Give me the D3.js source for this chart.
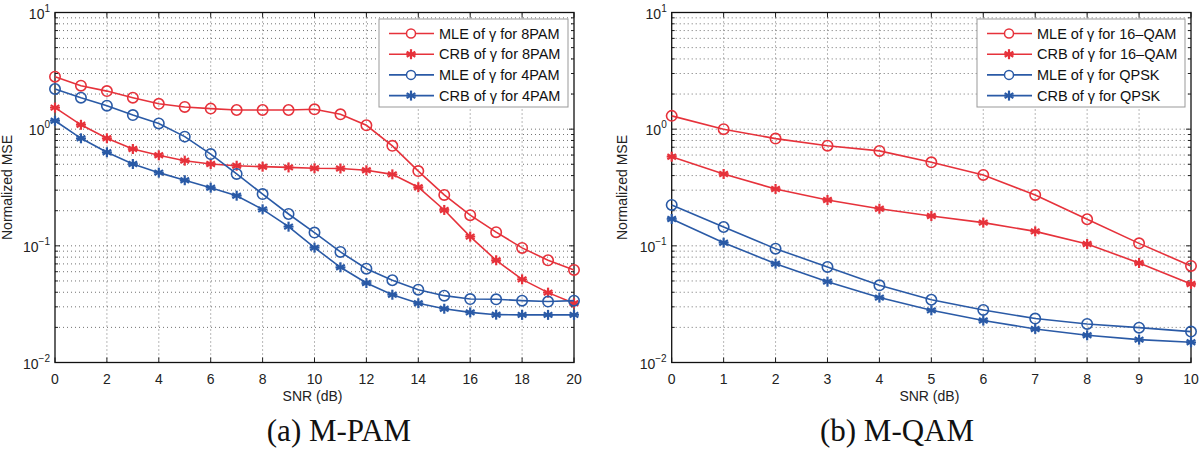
<!DOCTYPE html>
<html><head><meta charset="utf-8">
<script src="https://cdn.jsdelivr.net/npm/d3@7"></script>
<style>body{margin:0;background:#fff}svg{display:block}</style>
</head><body>
<svg id="c" width="1200" height="450"></svg>
<script>
// ---- data ----
const snrPAM = d3.range(0, 21);
const mle8PAM = [2.82,2.36,2.12,1.86,1.65,1.55,1.50,1.46,1.46,1.46,1.48,1.34,1.08,0.72,0.437,0.273,0.183,0.131,0.096,0.0752,0.0621];
const crb8PAM = [1.53,1.09,0.835,0.676,0.597,0.537,0.503,0.486,0.477,0.47,0.462,0.46,0.444,0.41,0.318,0.203,0.12,0.0752,0.0516,0.0397,0.0322];
const mle4PAM = [2.21,1.86,1.59,1.32,1.12,0.863,0.612,0.413,0.278,0.1875,0.13,0.0886,0.0637,0.0507,0.0421,0.0374,0.035,0.0348,0.0339,0.0333,0.0339];
const crb4PAM = [1.18,0.835,0.634,0.503,0.424,0.365,0.315,0.269,0.2055,0.146,0.0964,0.0655,0.048,0.0381,0.0322,0.0289,0.0269,0.0257,0.0256,0.0256,0.0256];

const snrQAM = d3.range(0, 11);
const mle16QAM = [1.30,1.0,0.83,0.722,0.651,0.52,0.405,0.273,0.169,0.105,0.0672];
const crb16QAM = [0.581,0.413,0.307,0.247,0.208,0.18,0.158,0.133,0.1037,0.0713,0.0471];
const mleQPSK = [0.224,0.145,0.0946,0.0659,0.0459,0.0345,0.0282,0.0238,0.0214,0.0199,0.0184];
const crbQPSK = [0.17,0.1064,0.0703,0.0493,0.036,0.028,0.0229,0.0194,0.0171,0.0157,0.0149];

const pamTicks = [0,2,4,6,8,10,12,14,16,18,20];
const qamTicks = [0,1,2,3,4,5,6,7,8,9,10];
const yDecades = [-2,-1,0,1];
const legendPAM = ["MLE of γ for 8PAM","CRB of γ for 8PAM","MLE of γ for 4PAM","CRB of γ for 4PAM"];
const legendQAM = ["MLE of γ for 16–QAM","CRB of γ for 16–QAM","MLE of γ for QPSK","CRB of γ for QPSK"];
const captions = ["(a) M-PAM","(b) M-QAM"];

const RED = "#e6323b", BLUE = "#2a5aa6";
const svg = d3.select("#c");
const font = "Liberation Sans, Arial, Helvetica, sans-serif";

function panel(cfg){
  const {x0,x1,xDom,xTicks,series,xs,legend,caption,capX,ylabX,legX} = cfg;
  const y0 = 362.5, y1 = 12.5;
  const x = d3.scaleLinear().domain(xDom).range([x0,x1]);
  const y = d3.scaleLog().domain([0.01,10]).range([y0,y1]);
  const g = svg.append("g");

  // grid
  const minor = [];
  for (const d of [-2,-1,0]) for (let k=2;k<=9;k++) minor.push(k*Math.pow(10,d));
  const majors = yDecades.map(d=>Math.pow(10,d));
  g.selectAll(".gy").data(minor.concat(majors.slice(1,3))).join("line")
    .attr("x1",x0).attr("x2",x1).attr("y1",d=>y(d)).attr("y2",d=>y(d))
    .attr("stroke","#444").attr("stroke-width",1).attr("stroke-dasharray","1,3").attr("opacity",0.75);
  g.selectAll(".gx").data(xTicks.slice(1,-1)).join("line")
    .attr("x1",d=>x(d)).attr("x2",d=>x(d)).attr("y1",y0).attr("y2",y1)
    .attr("stroke","#444").attr("stroke-width",1).attr("stroke-dasharray","1,3").attr("opacity",0.75);

  // ticks inside, all sides
  const tk = g.append("g").attr("stroke","#222").attr("stroke-width",1);
  xTicks.forEach(t=>{
    tk.append("line").attr("x1",x(t)).attr("x2",x(t)).attr("y1",y0).attr("y2",y0-5);
    tk.append("line").attr("x1",x(t)).attr("x2",x(t)).attr("y1",y1).attr("y2",y1+5);
  });
  majors.concat(minor).forEach(v=>{
    const L = majors.includes(v)?5:3;
    tk.append("line").attr("x1",x0).attr("x2",x0+L).attr("y1",y(v)).attr("y2",y(v));
    tk.append("line").attr("x1",x1).attr("x2",x1-L).attr("y1",y(v)).attr("y2",y(v));
  });
  g.append("rect").attr("x",x0).attr("y",y1).attr("width",x1-x0).attr("height",y0-y1)
    .attr("fill","none").attr("stroke","#111").attr("stroke-width",1.3);

  // x tick labels
  g.selectAll(".xl").data(xTicks).join("text")
    .attr("x",d=>x(d)).attr("y",y0+21).attr("text-anchor","middle")
    .attr("font-family",font).attr("font-size",14).attr("fill","#222").text(d=>d);
  // y tick labels
  yDecades.forEach(d=>{
    const t = g.append("text").attr("x",x0-5).attr("y",y(Math.pow(10,d))+6).attr("text-anchor","end")
      .attr("font-family",font).attr("font-size",14).attr("fill","#222");
    t.append("tspan").text("10");
    t.append("tspan").attr("dy",-7).attr("font-size",10).text(d<0?"−"+(-d):d);
  });
  g.append("text").attr("x",(x0+x1)/2-2).attr("y",y0+38).attr("text-anchor","middle")
    .attr("font-family",font).attr("font-size",14).attr("fill","#222").text("SNR (dB)");
  g.append("text").attr("transform",`translate(${ylabX},${(y0+y1)/2}) rotate(-90)`)
    .attr("text-anchor","middle").attr("font-family",font).attr("font-size",14).attr("fill","#222").text("Normalized MSE");
  g.append("text").attr("x",capX).attr("y",441).attr("text-anchor","middle")
    .attr("font-family","Liberation Serif, Times New Roman, serif").attr("font-size",31).attr("fill","#111").text(caption);

  const line = d3.line().x((d,i)=>x(xs[i])).y(d=>y(d));
  const star = (sel,cx,cy,col)=>{
    const r=5;
    [0,60,120].forEach(a=>{
      const rad=a*Math.PI/180;
      sel.append("line").attr("x1",cx-r*Math.sin(rad)).attr("y1",cy-r*Math.cos(rad))
        .attr("x2",cx+r*Math.sin(rad)).attr("y2",cy+r*Math.cos(rad))
        .attr("stroke",col).attr("stroke-width",2.2);
    });
    sel.append("line").attr("x1",cx-r).attr("x2",cx+r).attr("y1",cy).attr("y2",cy).attr("stroke",col).attr("stroke-width",1.8);
  };
  series.forEach(s=>{
    g.append("path").datum(s.v).attr("d",line).attr("fill","none").attr("stroke",s.c).attr("stroke-width",1.6);
    const mg = g.append("g");
    s.v.forEach((v,i)=>{
      if (s.m==="o") mg.append("circle").attr("cx",x(xs[i])).attr("cy",y(v)).attr("r",5.2)
        .attr("fill","none").attr("stroke",s.c).attr("stroke-width",1.6);
      else star(mg,x(xs[i]),y(v),s.c);
    });
  });

  // legend
  const lg = g.append("g");
  const bw = cfg.legW;
  lg.append("rect").attr("x",legX).attr("y",19).attr("width",bw).attr("height",88)
    .attr("fill","#fff").attr("stroke","#999").attr("stroke-width",1);
  legend.forEach((t,i)=>{
    const ly = 33.5 + i*20.7;
    const s = series[i];
    lg.append("line").attr("x1",legX+10).attr("x2",legX+55).attr("y1",ly).attr("y2",ly).attr("stroke",s.c).attr("stroke-width",1.6);
    if (s.m==="o") lg.append("circle").attr("cx",legX+32).attr("cy",ly).attr("r",4.5).attr("fill","#fff").attr("stroke",s.c).attr("stroke-width",1.5);
    else star(lg,legX+32,ly,s.c);
    lg.append("text").attr("x",legX+60).attr("y",ly+5).attr("font-family",font).attr("font-size",14.5).attr("fill","#111").text(t);
  });
}

panel({x0:55,x1:574,xDom:[0,20],xTicks:pamTicks,xs:snrPAM,
  series:[{v:mle8PAM,c:RED,m:"o"},{v:crb8PAM,c:RED,m:"*"},{v:mle4PAM,c:BLUE,m:"o"},{v:crb4PAM,c:BLUE,m:"*"}],
  legend:legendPAM,caption:captions[0],capX:339,ylabX:12,legX:379,legW:189});
panel({x0:671.7,x1:1191,xDom:[0,10],xTicks:qamTicks,xs:snrQAM,
  series:[{v:mle16QAM,c:RED,m:"o"},{v:crb16QAM,c:RED,m:"*"},{v:mleQPSK,c:BLUE,m:"o"},{v:crbQPSK,c:BLUE,m:"*"}],
  legend:legendQAM,caption:captions[1],capX:897,ylabX:627,legX:977,legW:208});
</script>
</body></html>
